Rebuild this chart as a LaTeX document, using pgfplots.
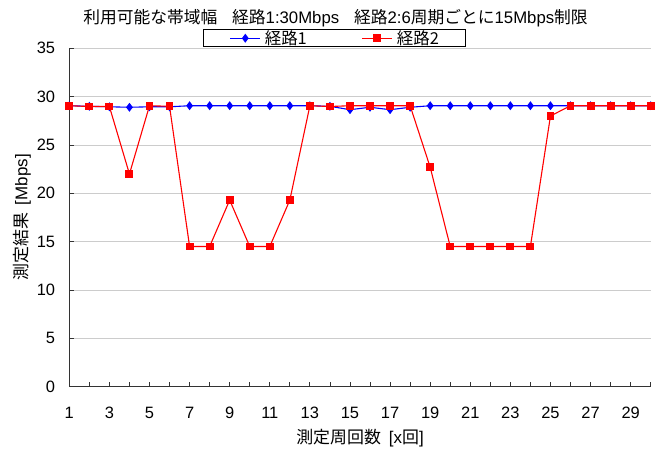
\documentclass[border=0pt]{standalone}
\usepackage{fontspec}
\setmainfont{Liberation Sans}
\newfontfamily\cjk{Noto Sans CJK JP}
\usepackage{pgfplots}
\pgfplotsset{compat=1.18}
\begin{document}
\begin{tikzpicture}
\path[use as bounding box] (0,0) rectangle (662bp,452bp);
\node[anchor=base] at (335.5bp,428bp) {\fontsize{16.8}{18}\selectfont{\cjk 利用可能な帯域幅}\hspace{15bp}{\cjk 経路}1:30Mbps\hspace{15bp}{\cjk 経路}2:6{\cjk 周期ごとに}15Mbps{\cjk 制限}};
\begin{axis}[
  at={(69.3bp,65.3bp)}, anchor=south west,
  width=581.4bp, height=338.4bp, scale only axis,
  xmin=1, xmax=30, ymin=0, ymax=35,
  axis x line*=bottom, axis y line*=left,
  axis line style={black!80, line width=0.9bp},
  xtick={1,3,...,29}, minor xtick={2,4,...,30},
  ytick={0,5,...,35},
  tick align=inside,
  major tick length=5bp, minor tick length=5bp,
  tick style={black!80, line width=0.8bp},
  ymajorgrids, grid style={gray!40, line width=0.8bp},
  /pgf/number format/assume math mode=true,
  ticklabel style={font=\fontsize{16.5}{16}\selectfont, inner sep=0pt},
  yticklabel style={anchor=east, xshift=-14bp},
  xticklabel style={anchor=north, yshift=-20.5bp},
  xlabel={{\cjk 測定周回数}\hspace{8bp}[x{\cjk 回}]},
  ylabel={{\cjk 測定結果}\hspace{8bp}[Mbps]},
  label style={font=\fontsize{17}{18}\selectfont},
  xlabel style={at={(axis description cs:0.5,-0.1516)}, anchor=center},
  ylabel style={at={(axis description cs:-0.0814,0.5)}, anchor=center},
  legend columns=2,
  legend style={at={(0.2297,1)}, anchor=south west, yshift=1bp,
    draw=black, line width=0.8bp, inner xsep=26.5bp, inner ysep=1bp,
    font=\fontsize{16.5}{16}\selectfont,
    nodes={inner sep=0pt},
    /tikz/every odd column/.append style={column sep=4bp},
    /tikz/every even column/.append style={column sep=55bp}},
  legend image code/.code={\draw[mark repeat=2,mark phase=2,#1] plot coordinates {(0bp,0bp) (15bp,0bp) (30bp,0bp)};},
]
\addplot[color=blue, line width=1.1bp, mark=diamond*, mark size=3.6bp, mark options={solid, fill=blue}] coordinates {
(1,29.06) (2,29.0) (3,28.95) (4,28.9) (5,28.95) (6,28.95) (7,29.06) (8,29.06) (9,29.06) (10,29.06)
(11,29.06) (12,29.06) (13,29.06) (14,29.0) (15,28.65) (16,28.9) (17,28.65) (18,28.9) (19,29.06) (20,29.06)
(21,29.06) (22,29.06) (23,29.06) (24,29.06) (25,29.06) (26,29.06) (27,29.06) (28,29.06) (29,29.06) (30,29.06)
};
\addlegendentry{{\cjk 経路1}}
\addplot[color=red, line width=1.1bp, mark=square*, mark size=3.4bp, mark options={solid, fill=red}] coordinates {
(1,29.06) (2,28.98) (3,28.98) (4,22.0) (5,29.06) (6,29.0) (7,14.5) (8,14.5) (9,19.3) (10,14.5)
(11,14.5) (12,19.3) (13,29.06) (14,28.98) (15,29.06) (16,29.06) (17,29.06) (18,29.06) (19,22.7) (20,14.5)
(21,14.5) (22,14.5) (23,14.5) (24,14.5) (25,28.0) (26,29.06) (27,29.06) (28,29.06) (29,29.06) (30,29.06)
};
\addlegendentry{{\cjk 経路2}}
\end{axis}
\end{tikzpicture}
\end{document}
